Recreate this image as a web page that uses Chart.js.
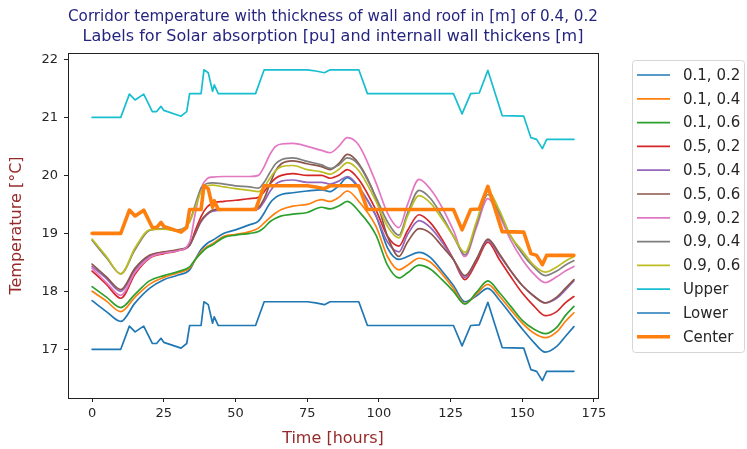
<!DOCTYPE html>
<html>
<head>
<meta charset="utf-8">
<script src="https://cdn.jsdelivr.net/npm/chart.js@4.4.1/dist/chart.umd.min.js"></script>
<style>
  html, body { margin: 0; padding: 0; background: #fff; }
</style>
</head>
<body>
<canvas id="myChart" width="747" height="449"></canvas>
<script>
// hourly readings (sampled), corridor temperature in degC
const hours = [0, 5, 10, 15, 20, 25, 30, 34, 36, 38, 40, 42, 46, 50, 55, 58, 60, 62, 64, 66, 70, 75, 80, 83, 86, 89, 93, 99, 103, 107, 110, 114, 118, 122, 126, 130, 134, 138, 142, 146, 150, 154, 158, 162, 165, 168];

const abs01wall02 = [17.84, 17.65, 17.48, 17.8, 18.05, 18.2, 18.28, 18.37, 18.55, 18.72, 18.82, 18.88, 19.0, 19.06, 19.15, 19.21, 19.35, 19.52, 19.62, 19.67, 19.7, 19.73, 19.75, 19.72, 19.82, 19.96, 19.78, 19.3, 18.75, 18.55, 18.6, 18.67, 18.58, 18.35, 18.1, 17.82, 17.92, 18.05, 17.85, 17.6, 17.35, 17.12, 16.95, 17.05, 17.22, 17.39];
const abs01wall04 = [18.0, 17.83, 17.65, 17.9, 18.12, 18.24, 18.32, 18.4, 18.55, 18.68, 18.77, 18.82, 18.95, 18.98, 19.03, 19.09, 19.18, 19.27, 19.35, 19.41, 19.47, 19.5, 19.58, 19.55, 19.62, 19.73, 19.55, 19.12, 18.6, 18.37, 18.45, 18.57, 18.5, 18.3, 18.05, 17.79, 17.95, 18.12, 17.92, 17.68, 17.45, 17.28, 17.2, 17.3, 17.48, 17.63];
const abs01wall06 = [18.08, 17.9, 17.72, 17.95, 18.18, 18.27, 18.34, 18.42, 18.55, 18.66, 18.75, 18.8, 18.93, 18.97, 19.0, 19.03, 19.1, 19.2, 19.26, 19.3, 19.33, 19.36, 19.45, 19.42, 19.47, 19.55, 19.38, 18.97, 18.45, 18.23, 18.32, 18.45, 18.38, 18.2, 18.0, 17.78, 17.98, 18.18, 17.98, 17.74, 17.5, 17.35, 17.27, 17.38, 17.58, 17.74];
const abs05wall02 = [18.35, 18.12, 17.88, 18.3, 18.57, 18.65, 18.7, 18.8, 19.05, 19.29, 19.45, 19.52, 19.55, 19.57, 19.6, 19.62, 19.72, 19.85, 19.95, 20.0, 20.03, 20.0, 20.0, 19.95, 20.0, 20.1, 19.93, 19.4, 18.95, 18.78, 19.05, 19.32, 19.18, 18.9, 18.55, 18.2, 18.5, 18.85, 18.55, 18.25, 17.97, 17.75, 17.58, 17.65, 17.8, 17.91];
const abs05wall04 = [18.43, 18.22, 18.0, 18.37, 18.6, 18.67, 18.71, 18.79, 19.0, 19.2, 19.32, 19.38, 19.4, 19.4, 19.4, 19.42, 19.55, 19.72, 19.85, 19.9, 19.92, 19.88, 19.88, 19.85, 19.9, 19.98, 19.8, 19.3, 18.85, 18.68, 18.98, 19.22, 19.1, 18.85, 18.55, 18.24, 18.55, 18.88, 18.62, 18.35, 18.1, 17.92, 17.8, 17.88, 18.02, 18.18];
const abs05wall06 = [18.47, 18.25, 18.03, 18.4, 18.62, 18.68, 18.72, 18.8, 19.0, 19.22, 19.33, 19.4, 19.42, 19.42, 19.42, 19.45, 19.6, 19.85, 20.08, 20.2, 20.25, 20.2, 20.15, 20.1, 20.2, 20.36, 20.2, 19.6, 18.95, 18.6, 18.85, 19.08, 19.0, 18.78, 18.55, 18.27, 18.55, 18.9, 18.65, 18.35, 18.1, 17.92, 17.8, 17.9, 18.05, 18.2];
const abs09wall02 = [18.4, 18.15, 17.93, 18.33, 18.58, 18.66, 18.7, 18.85, 19.35, 19.78, 19.94, 19.97, 19.98, 19.98, 19.98, 20.0, 20.15, 20.36, 20.5, 20.54, 20.55, 20.5, 20.43, 20.39, 20.5, 20.65, 20.52, 19.87, 19.35, 19.1, 19.5, 19.93, 19.76, 19.45, 19.05, 18.6, 19.1, 19.6, 19.3, 18.88, 18.55, 18.3, 18.15, 18.25, 18.35, 18.43];
const abs09wall04 = [18.88, 18.58, 18.3, 18.72, 19.05, 19.08, 19.06, 19.2, 19.5, 19.78, 19.86, 19.87, 19.85, 19.82, 19.8, 19.78, 19.88, 20.05, 20.2, 20.27, 20.3, 20.24, 20.18, 20.12, 20.18, 20.3, 20.18, 19.62, 19.2, 18.97, 19.35, 19.74, 19.6, 19.3, 18.95, 18.63, 19.15, 19.67, 19.35, 18.95, 18.65, 18.42, 18.27, 18.35, 18.45, 18.53];
const abs09wall06 = [18.9, 18.6, 18.3, 18.75, 19.06, 19.07, 19.04, 19.2, 19.45, 19.72, 19.82, 19.83, 19.8, 19.77, 19.74, 19.72, 19.8, 19.95, 20.08, 20.15, 20.17, 20.1, 20.06, 20.02, 20.1, 20.22, 20.08, 19.55, 19.12, 18.92, 19.3, 19.65, 19.52, 19.25, 18.95, 18.67, 19.2, 19.72, 19.4, 18.95, 18.7, 18.45, 18.33, 18.42, 18.52, 18.6];

// comfort band, hourly steps
const bandHours = [0, 10, 13, 15, 18, 21, 22.5, 24, 25, 31, 33, 34, 38, 39, 40.5, 42, 42.6, 44, 57, 60, 75, 78, 81, 83, 93, 96, 126, 129, 132, 135, 138, 140.5, 143, 150.5, 153, 155, 157, 158.5, 168];
const upperTemp = [21.0, 21.0, 21.4, 21.3, 21.4, 21.1, 21.1, 21.19, 21.12, 21.02, 21.1, 21.41, 21.41, 21.82, 21.77, 21.45, 21.56, 21.41, 21.41, 21.82, 21.82, 21.8, 21.77, 21.82, 21.82, 21.41, 21.41, 21.06, 21.41, 21.42, 21.81, 21.42, 21.03, 21.02, 20.65, 20.62, 20.46, 20.62, 20.62];
const lowerTemp = [17.0, 17.0, 17.4, 17.3, 17.4, 17.1, 17.1, 17.19, 17.12, 17.02, 17.1, 17.41, 17.41, 17.82, 17.77, 17.45, 17.56, 17.41, 17.41, 17.82, 17.82, 17.8, 17.77, 17.82, 17.82, 17.41, 17.41, 17.06, 17.41, 17.42, 17.81, 17.42, 17.03, 17.02, 16.65, 16.62, 16.46, 16.62, 16.62];
const centerTemp = [19.0, 19.0, 19.4, 19.3, 19.4, 19.1, 19.1, 19.19, 19.12, 19.02, 19.1, 19.41, 19.41, 19.82, 19.77, 19.45, 19.56, 19.41, 19.41, 19.82, 19.82, 19.8, 19.77, 19.82, 19.82, 19.41, 19.41, 19.06, 19.41, 19.42, 19.81, 19.42, 19.03, 19.02, 18.65, 18.62, 18.46, 18.62, 18.62];

const seriesLabels = ['0.1, 0.2', '0.1, 0.4', '0.1, 0.6', '0.5, 0.2', '0.5, 0.4', '0.5, 0.6', '0.9, 0.2', '0.9, 0.4', '0.9, 0.6', 'Upper', 'Lower', 'Center'];
const xTicks = [0, 25, 50, 75, 100, 125, 150, 175];
const yTicks = [17, 18, 19, 20, 21, 22];
const titleLines = ['Corridor temperature with thickness of wall and roof in [m] of 0.4, 0.2',
  'Labels for Solar absorption [pu] and internall wall thickens [m]'];

const colors = ['#1f77b4', '#ff7f0e', '#2ca02c', '#d62728', '#9467bd', '#8c564b', '#e377c2', '#7f7f7f', '#bcbd22', '#17becf', '#1f77b4', '#ff7f0e'];
const font = 'DejaVu Sans';

function pairs(xs, ys) {
  return xs.map((x, i) => ({ x: x, y: ys[i] }));
}

let curves = [abs01wall02, abs01wall04, abs01wall06, abs05wall02, abs05wall04, abs05wall06, abs09wall02, abs09wall04, abs09wall06];
let datasets = [];
for (let i = 0; i < curves.length; i++) {
  datasets.push({
    label: seriesLabels[i],
    data: pairs(hours, curves[i]),
    borderColor: colors[i],
    borderWidth: 1.7,
    cubicInterpolationMode: 'monotone'
  });
}
let band = [upperTemp, lowerTemp, centerTemp];
for (let i = 0; i < band.length; i++) {
  datasets.push({
    label: seriesLabels[9 + i],
    data: pairs(bandHours, band[i]),
    borderColor: colors[9 + i],
    borderWidth: i == 2 ? 3.6 : 1.7,
    tension: 0
  });
}
// later series on top, like the plotting order
datasets.forEach((d, i) => {
  d.order = datasets.length - i;
  d.pointRadius = 0;
  d.fill = false;
  d.borderJoinStyle = 'round';
  d.borderCapStyle = 'round';
});

// black box round the plot
const frame = {
  id: 'frame',
  afterDatasetsDraw(chart) {
    const a = chart.chartArea;
    const c = chart.ctx;
    c.save();
    c.strokeStyle = '#222';
    c.lineWidth = 1;
    c.strokeRect(Math.round(a.left) + 0.5, Math.round(a.top) + 0.5, Math.round(a.right - a.left), Math.round(a.bottom - a.top));
    c.restore();
  }
};

// legend to the right of the plot
const sideLegend = {
  id: 'sideLegend',
  afterDraw(chart) {
    const a = chart.chartArea;
    const c = chart.ctx;
    const x0 = a.right + 34, y0 = 60, w = 112, h = 292, step = 23.8;
    c.save();
    c.fillStyle = 'rgba(255,255,255,0.8)';
    c.strokeStyle = '#d6d6d6';
    c.lineWidth = 1;
    c.beginPath();
    c.roundRect(x0 + 0.5, y0 + 0.5, w, h, 3);
    c.fill();
    c.stroke();
    c.font = '15px "' + font + '"';
    c.textBaseline = 'middle';
    chart.data.datasets.forEach((d, i) => {
      const y = y0 + 15 + i * step;
      c.strokeStyle = d.borderColor;
      c.lineWidth = d.borderWidth;
      c.beginPath();
      c.moveTo(x0 + 5, y);
      c.lineTo(x0 + 38, y);
      c.stroke();
      c.fillStyle = '#262626';
      c.fillText(d.label, x0 + 51, y + 1);
    });
    c.restore();
  }
};

let ctx = document.getElementById('myChart').getContext('2d');
const myChart = new Chart(ctx, {
  type: 'line',
  data: { datasets: datasets },
  options: {
    responsive: false,
    animation: false,
    layout: { padding: { top: 0, right: 149, bottom: 0, left: 0 } },
    plugins: {
      legend: { display: false },
      tooltip: { enabled: false },
      title: {
        display: true,
        text: titleLines,
        color: '#25257f',
        fullSize: false,
        font: { family: font, size: 16, weight: 'normal', lineHeight: 1.25 },
        padding: { top: 7, bottom: 6 }
      }
    },
    scales: {
      x: {
        type: 'linear',
        min: -8.4,
        max: 176.4,
        afterBuildTicks: s => { s.ticks = xTicks.map(v => ({ value: v })); },
        afterFit: s => { s.height = 51; },
        ticks: { color: '#262626', font: { family: font, size: 13 }, padding: 4, maxRotation: 0 },
        grid: { drawOnChartArea: false, drawTicks: true, tickLength: 4, color: '#222' },
        border: { display: false },
        title: { display: true, text: 'Time [hours]', color: '#962a2a', font: { family: font, size: 16 }, padding: { top: 0, bottom: 1 } }
      },
      y: {
        min: 16.16,
        max: 22.11,
        afterBuildTicks: s => { s.ticks = yTicks.map(v => ({ value: v })); },
        afterFit: s => { s.width = 68; },
        ticks: { color: '#262626', font: { family: font, size: 13 }, padding: 6 },
        grid: { drawOnChartArea: false, drawTicks: true, tickLength: 4, color: '#222' },
        border: { display: false },
        title: { display: true, text: 'Temperature [°C]', color: '#962a2a', font: { family: font, size: 16 }, padding: { top: 7, bottom: 0 } }
      }
    }
  },
  plugins: [frame, sideLegend]
});
</script>
</body>
</html>
